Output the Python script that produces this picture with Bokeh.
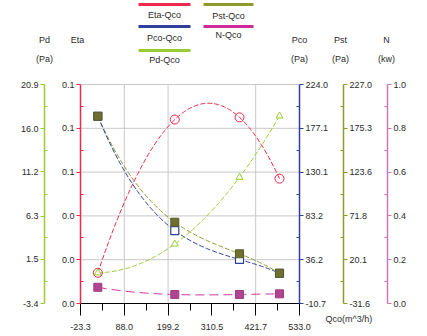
import numpy as np
from bokeh.plotting import figure
from bokeh.models import (Range1d, LinearAxis, FixedTicker, Label, BoxAnnotation,
                          NumeralTickFormatter)
from bokeh.embed import file_html
from bokeh.resources import INLINE

# ---- data ----
qco = [20.7, 216.2, 380.6, 482.2]          # m^3/h
eta = [0.014, 0.084, 0.085, 0.057]
pco = [190.0, 67.5, 36.5, 21.7]            # Pa
pst = [189.5, 64.4, 27.1, 4.1]             # Pa
pd = [0.0, 3.2, 10.6, 17.4]                # Pa
nkw = [0.074, 0.041, 0.041, 0.044]         # kw

x_ticks = [-23.3, 88.0, 199.2, 310.5, 421.7, 533.0]
eta_ticks = [0.0, 0.02, 0.04, 0.06, 0.08, 0.1]
pd_ticks = [-3.4, 1.5, 6.3, 11.2, 16.0, 20.9]
pco_ticks = [-10.7, 36.2, 83.2, 130.1, 177.1, 224.0]
pst_ticks = [-31.6, 20.1, 71.8, 123.6, 175.3, 227.0]
n_ticks = [0.0, 0.2, 0.4, 0.6, 0.8, 1.0]

legend_names = ["Eta-Qco", "Pco-Qco", "Pd-Qco", "Pst-Qco", "N-Qco"]
axis_names = ["Pd", "Eta", "Pco", "Pst", "N"]
axis_units = ["(Pa)", "", "(Pa)", "(Pa)", "(kw)"]
x_title = "Qco(m^3/h)"

C_ETA = "#ee2a4a"
C_PCO = "#2e3f9e"
C_PD = "#99cc33"
C_PST = "#8f9a2c"
C_N = "#cc2a99"
FONT = "Liberation Sans"
TXT = "#2a2a2a"

# ---- layout in canvas pixels (y downwards) ----
W, H = 419, 334
PL, PR, PT, PB = 80, 299, 84, 303      # plot area box


def minors(t):
    return [(a + b) / 2 for a, b in zip(t[:-1], t[1:])]


def ext_range(t, lo_px, hi_px, total):
    """Range spanning the whole canvas so that t[0] sits at lo_px and t[-1] at hi_px."""
    k = (t[-1] - t[0]) / (hi_px - lo_px)
    return Range1d(t[0] - lo_px * k, t[-1] + (total - hi_px) * k)


kx = (x_ticks[-1] - x_ticks[0]) / (PR - PL)


def xdata(px):
    return x_ticks[0] + (px - PL) * kx


p = figure(frame_width=W, frame_height=H, min_border=0,
           x_range=ext_range(x_ticks, PL, PR, W),
           y_range=ext_range(eta_ticks, H - PB, H - PT, H),
           x_axis_location=None, y_axis_location=None,
           output_backend="svg", toolbar_location=None)
p.outline_line_color = None
p.grid.visible = False

p.extra_y_ranges = {
    "pd": ext_range(pd_ticks, H - PB, H - PT, H),
    "pco": ext_range(pco_ticks, H - PB, H - PT, H),
    "pst": ext_range(pst_ticks, H - PB, H - PT, H),
    "n": ext_range(n_ticks, H - PB, H - PT, H),
}

# grid lines (only inside the plot box)
gx = [x_ticks[1], x_ticks[2], x_ticks[4]]
p.segment(x0=gx, x1=gx, y0=eta_ticks[0], y1=eta_ticks[-1], color="#c8c8c8", line_width=1)
p.segment(x0=x_ticks[0], x1=x_ticks[-1], y0=eta_ticks[1:], y1=eta_ticks[1:],
          color="#c8c8c8", line_width=1)


def make_axis(side, rname, color, ticks, px):
    ax = LinearAxis(y_range_name=rname) if rname else LinearAxis()
    ax.ticker = FixedTicker(ticks=ticks, minor_ticks=minors(ticks))
    ax.formatter = NumeralTickFormatter(format="0.0")
    ax.bounds = (ticks[0], ticks[-1])
    ax.fixed_location = xdata(px)
    ax.axis_line_color = color
    ax.axis_line_width = 1.5
    ax.major_tick_line_color = color
    ax.minor_tick_line_color = color
    ax.major_tick_out = 4
    ax.major_tick_in = 0
    ax.minor_tick_out = 0
    ax.minor_tick_in = 3
    ax.major_label_standoff = 2
    ax.major_label_text_font = FONT
    ax.major_label_text_font_size = "9px"
    ax.major_label_text_color = TXT
    p.add_layout(ax, side)
    return ax


make_axis("left", None, C_ETA, eta_ticks, PL)
make_axis("left", "pd", C_PD, pd_ticks, 44)
make_axis("right", "pco", C_PCO, pco_ticks, PR)
make_axis("right", "pst", C_PST, pst_ticks, 343)
make_axis("right", "n", "#cc77bb", n_ticks, 387)

xa = LinearAxis()
xa.ticker = FixedTicker(ticks=x_ticks, minor_ticks=minors(x_ticks))
xa.formatter = NumeralTickFormatter(format="0.0")
xa.bounds = (x_ticks[0], x_ticks[-1])
xa.fixed_location = eta_ticks[0]
xa.axis_line_color = "black"
xa.major_tick_line_color = "black"
xa.minor_tick_line_color = "black"
xa.major_tick_out = 12
xa.major_tick_in = 0
xa.minor_tick_out = 7
xa.minor_tick_in = 0
xa.major_label_standoff = 8
xa.major_label_text_font = FONT
xa.major_label_text_font_size = "9px"
xa.major_label_text_color = TXT
p.add_layout(xa, "below")

# curves: cubic through the 4 measured points
xs = np.linspace(min(qco), max(qco), 120)


def curve(vals):
    return np.polyval(np.polyfit(qco, vals, 3), xs)


p.line(xs, curve(pst), color=C_PST, line_width=1, line_dash="5 2", y_range_name="pst")
p.line(xs, curve(pco), color=C_PCO, line_width=1, line_dash="5 2", y_range_name="pco")
p.line(xs, curve(pd), color=C_PD, line_width=1, line_dash="5 2", y_range_name="pd")
p.line(xs, curve(eta), color=C_ETA, line_width=1, line_dash="5 2")
p.line(xs, curve(nkw), color=C_N, line_width=1, line_dash="9 5", y_range_name="n")

p.scatter(qco, pco, marker="square", size=8, fill_color="white", line_color=C_PCO,
          line_width=1.2, y_range_name="pco")
p.scatter(qco, pst, marker="square", size=8, fill_color="#6e7030", line_color="#5a5c28",
          y_range_name="pst")
p.scatter(qco, pd, marker="triangle", size=7, fill_color="white", line_color=C_PD,
          y_range_name="pd")
p.scatter(qco, eta, marker="circle", size=9, fill_color=None, line_color=C_ETA,
          line_width=1)
p.scatter(qco, nkw, marker="square", size=8, fill_color="#b04490", line_color="#a03c84",
          y_range_name="n")


def txt(x, y, s, align="center"):
    # x, y in canvas pixels (y downwards)
    p.add_layout(Label(x=x, y=H - y, x_units="screen", y_units="screen", text=s,
                       text_font=FONT, text_font_size="9px", text_color=TXT,
                       text_align=align, text_baseline="middle"))


# legend: a short line with its label underneath
leg_x0 = [138, 138, 138, 203, 203]
leg_x1 = [190, 190, 190, 253, 253]
leg_line_y = [4, 26, 50, 4, 26]
leg_text_y = [14, 37, 59, 15, 34]
leg_col = [C_ETA, C_PCO, C_PD, C_PST, C_N]
for x0, x1, yl, yt, col, name in zip(leg_x0, leg_x1, leg_line_y, leg_text_y, leg_col,
                                     legend_names):
    p.add_layout(BoxAnnotation(left=x0, right=x1, bottom=H - yl - 1.5, top=H - yl + 1.5,
                               left_units="screen", right_units="screen",
                               bottom_units="screen", top_units="screen",
                               fill_color=col, fill_alpha=1, line_color=None))
    txt((x0 + x1) / 2, yt, name)

# axis titles centred over each axis
title_x = [44, 77, 299, 340, 386]
for tx, nm, un in zip(title_x, axis_names, axis_units):
    txt(tx, 39, nm)
    if un:
        txt(tx, 58, un)

txt(325, 318, x_title, align="left")

open("out.html", "w").write(file_html(p, INLINE))
